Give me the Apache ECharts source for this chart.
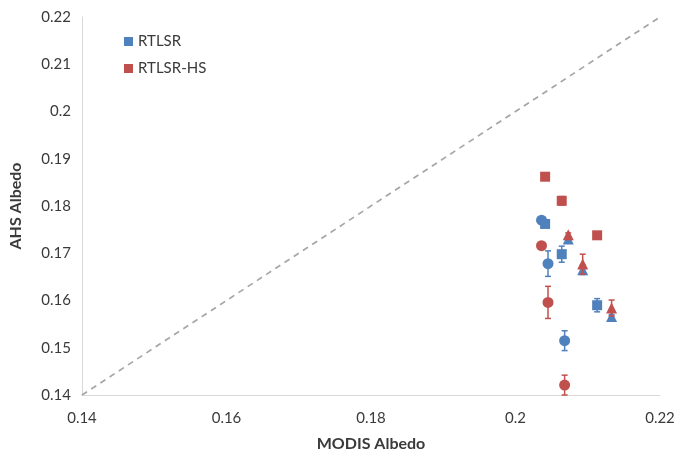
<!DOCTYPE html>
<html>
<head>
<meta charset="utf-8">
<script src="https://cdn.jsdelivr.net/npm/echarts@6/dist/echarts.min.js"></script>
<style>html,body{margin:0;padding:0;background:#fff;}#c{width:678px;height:458px;}</style>
</head>
<body>
<div id="c"></div>
<script>
// MODIS albedo (x) per site/shape
var modisX = [0.2036, 0.2045, 0.2068, 0.2041, 0.2064, 0.2113, 0.2073, 0.2093, 0.2133];
var shapes = ['circle','circle','circle','rect','rect','rect','triangle','triangle','triangle'];
var rtlsr = [0.1770, 0.1678, 0.1515, 0.1762, 0.1698, 0.1590, 0.1730, 0.1665, 0.1566];
var rtlsrErr = [0.0003, 0.0027, 0.0021, 0.0004, 0.0017, 0.0014, 0.0003, 0.0010, 0.0004];
var rtlsrHs = [0.1716, 0.1596, 0.1421, 0.1862, 0.1811, 0.1738, 0.1739, 0.1677, 0.1584];
var rtlsrHsErr = [0.0004, 0.0034, 0.0021, 0.0003, 0.0009, 0.0005, 0.0004, 0.0021, 0.0017];
var xTicks = [0.14, 0.16, 0.18, 0.2, 0.22];
var yTicks = [0.14, 0.15, 0.16, 0.17, 0.18, 0.19, 0.2, 0.21, 0.22];

var BLUE = '#4F81BD', RED = '#C0504D';
var FONT = 'Lato';

function build(vals, errs) {
  return modisX.map(function (x, i) { return [x, vals[i], errs[i], i]; });
}
var blueData = build(rtlsr, rtlsrErr);
var redData = build(rtlsrHs, rtlsrHsErr);

function symSize(v) {
  var s = shapes[v[3]];
  return s === 'circle' ? 11 : (s === 'rect' ? 10 : 11);
}
function errRender(color) {
  return function (params, api) {
    var x = api.value(0), y = api.value(1), e = api.value(2);
    var hi = api.coord([x, y + e]);
    var lo = api.coord([x, y - e]);
    var w = 3;
    var st = { stroke: color, lineWidth: 1.5 };
    return {
      type: 'group',
      children: [
        { type: 'line', shape: { x1: hi[0], y1: hi[1], x2: lo[0], y2: lo[1] }, style: st },
        { type: 'line', shape: { x1: hi[0] - w, y1: hi[1], x2: hi[0] + w, y2: hi[1] }, style: st },
        { type: 'line', shape: { x1: lo[0] - w, y1: lo[1], x2: lo[0] + w, y2: lo[1] }, style: st }
      ]
    };
  };
}
function fmt(v) { return String(+v.toFixed(2)); }

var chart = echarts.init(document.getElementById('c'), null, { renderer: 'canvas' });
chart.setOption({
  animation: false,
  backgroundColor: '#fff',
  textStyle: { fontFamily: FONT },
  grid: { left: 82, top: 17, width: 578, height: 378, containLabel: false },
  legend: {
    orient: 'vertical', left: 119, top: 29, itemGap: 12,
    itemWidth: 9, itemHeight: 9,
    textStyle: { fontSize: 15, color: '#3a3a3a', fontFamily: FONT },
    data: [{ name: 'RTLSR', icon: 'rect' }, { name: 'RTLSR-HS', icon: 'rect' }]
  },
  xAxis: {
    type: 'value', min: xTicks[0], max: xTicks[xTicks.length - 1], interval: 0.02,
    name: 'MODIS Albedo', nameLocation: 'middle', nameGap: 41,
    nameTextStyle: { fontSize: 16, fontWeight: 'bold', color: '#3a3a3a', fontFamily: FONT },
    axisLine: { lineStyle: { color: '#d9d9d9', width: 1 } },
    axisTick: { show: false },
    splitLine: { show: false },
    axisLabel: { fontSize: 15, color: '#3a3a3a', margin: 16, formatter: fmt }
  },
  yAxis: {
    type: 'value', min: yTicks[0], max: yTicks[yTicks.length - 1], interval: 0.01,
    name: 'AHS Albedo', nameLocation: 'middle', nameGap: 58, nameRotate: 90,
    nameTextStyle: { fontSize: 16, fontWeight: 'bold', color: '#3a3a3a', fontFamily: FONT },
    axisLine: { show: true, lineStyle: { color: '#d9d9d9', width: 1 } },
    axisTick: { show: false },
    splitLine: { show: false },
    axisLabel: { fontSize: 15, color: '#3a3a3a', margin: 11, formatter: fmt }
  },
  series: [
    {
      type: 'line', name: '1:1', data: [[0.14, 0.14], [0.22, 0.22]],
      showSymbol: false, symbol: 'none', silent: true, z: 1,
      lineStyle: { color: '#a6a6a6', width: 1.7, type: [6, 5] }
    },
    {
      type: 'custom', name: 'RTLSR', renderItem: errRender(BLUE), data: blueData,
      encode: { x: 0, y: 1 }, z: 2, itemStyle: { color: BLUE }
    },
    {
      type: 'scatter', name: 'RTLSR', data: blueData, z: 3,
      symbol: function (v) { return shapes[v[3]]; }, symbolSize: symSize,
      itemStyle: { color: BLUE, opacity: 1 }
    },
    {
      type: 'custom', name: 'RTLSR-HS', renderItem: errRender(RED), data: redData,
      encode: { x: 0, y: 1 }, z: 4, itemStyle: { color: RED }
    },
    {
      type: 'scatter', name: 'RTLSR-HS', data: redData, z: 5,
      symbol: function (v) { return shapes[v[3]]; }, symbolSize: symSize,
      itemStyle: { color: RED, opacity: 1 }
    }
  ]
});
</script>
</body>
</html>
